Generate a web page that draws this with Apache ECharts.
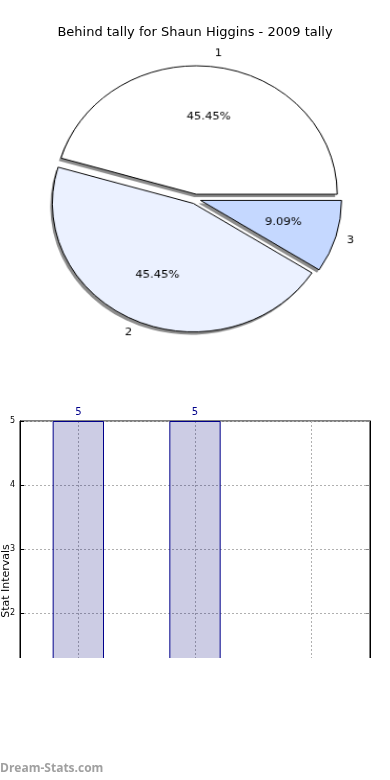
<!DOCTYPE html>
<html><head><meta charset="utf-8">
<script src="https://cdn.jsdelivr.net/npm/echarts@6/dist/echarts.min.js"></script>
<style>
html,body{margin:0;padding:0;background:#fff}
#wrap{position:relative;width:390px;height:780px}
#c{position:absolute;left:0;top:0;width:390px;height:780px}
#p{position:absolute;left:0;top:0;width:390px;height:380px;transform-origin:195.5px 199px;transform:scale(1.052,0.959)}
</style>
</head><body><div id="wrap"><div id="c"></div><div id="p"></div></div>
<script>
const titleText = 'Behind tally for Shaun Higgins - 2009 tally';
const pieNames = ['1', '2', '3'];
const pieValues = [5, 5, 1];
const pieColors = ['#ffffff', '#ebf1ff', '#c5d8ff'];
const barCategories = ['1', '2', '3'];
const barValues = [5, 5, 1];
const yTicks = { min: 0, max: 5, interval: 1 };
const yAxisName = 'Stat Intervals';
const watermark = 'Dream-Stats.com';

const font = 'DejaVu Sans';
const CX = 195.5, CY = 199;
const R = 134;
const OFF = 5;
const total = pieValues.reduce((a, b) => a + b, 0);

function pieData(fill) {
  return pieNames.map((n, i) => ({
    name: n, value: pieValues[i], selected: true,
    itemStyle: { color: fill === null ? pieColors[i] : fill }
  }));
}
const common = {
  type: 'pie', center: [CX, CY], startAngle: 0, clockwise: false,
  selectedMode: 'multiple', selectedOffset: OFF, animation: false,
  emphasis: { disabled: true }, labelLine: { show: false }
};

const chart = echarts.init(document.getElementById('c'), null, { renderer: 'canvas' });
chart.setOption({
  backgroundColor: '#fff',
  animation: false,
  title: {
    text: titleText, left: 'center', top: 21,
    textStyle: { fontFamily: font, fontSize: 13, fontWeight: 'normal', color: '#000' }
  },
  grid: { left: 20, right: 20, top: 421, bottom: 39, outerBoundsMode: 'none', containLabel: false,
    show: true, borderColor: '#000', borderWidth: 1, backgroundColor: 'transparent' },
  xAxis: {
    type: 'category', data: barCategories, boundaryGap: true,
    axisLine: { show: false }, axisTick: { show: false }, axisLabel: { show: false },
    splitLine: { show: true, alignWithLabel: true, lineStyle: { color: '#b0b0b0', type: [2, 2], width: 1 } }
  },
  yAxis: [{
    type: 'value', min: yTicks.min, max: yTicks.max, interval: yTicks.interval,
    axisLine: { show: true, lineStyle: { color: '#000' } },
    axisTick: { show: true, inside: true, length: 4, lineStyle: { color: '#000' } },
    axisLabel: { fontFamily: font, fontSize: 8, color: '#000', margin: 5 },
    splitLine: { show: true, lineStyle: { color: '#b0b0b0', type: [2, 2], width: 1 } }
  }, {
    type: 'value', position: 'right', min: yTicks.min, max: yTicks.max, interval: yTicks.interval,
    axisLine: { show: true, lineStyle: { color: '#000' } },
    axisTick: { show: true, inside: true, length: 4, lineStyle: { color: '#888' } },
    axisLabel: { show: false }, splitLine: { show: false }
  }],
  series: [
    {
      type: 'bar', data: barValues, barWidth: '44%', xAxisIndex: 0, yAxisIndex: 0,
      itemStyle: { color: 'rgba(0,0,120,0.2)', borderColor: '#00008b', borderWidth: 1 },
      label: { show: true, position: 'top', distance: 4, fontFamily: font, fontSize: 10, color: '#00008b' },
      emphasis: { disabled: true }
    }
  ],
  graphic: [
    { type: 'rect', left: 0, top: 658, shape: { width: 390, height: 122 }, style: { fill: '#fff' }, z: 100, silent: true },
    { type: 'text', x: 1, y: 581, rotation: Math.PI / 2, z: 101,
      style: { text: yAxisName, fontFamily: font, fontSize: 11, fill: '#000', align: 'center', verticalAlign: 'top' } },
    { type: 'text', left: 0, top: 763, z: 101, style: { text: watermark, fontFamily: 'Open Sans', fontSize: 12, fontWeight: 'bold', fill: '#a0a0a0' } }
  ]
});

const pie = echarts.init(document.getElementById('p'), null, { renderer: 'canvas' });
pie.setOption({
  animation: false,
  series: [
    Object.assign({}, common, {
      center: [CX - 2, CY + 3], radius: [0, R], data: pieData('#8c8c8c'), silent: true, z: 1,
      label: { show: false }, itemStyle: { borderWidth: 0 }
    }),
    Object.assign({}, common, {
      radius: [0, R], data: pieData(null), label: { show: false }, z: 2,
      itemStyle: { borderColor: '#000', borderWidth: 1 }
    }),
    Object.assign({}, common, {
      radius: [R * 0.54, R * 0.64], data: pieData('rgba(0,0,0,0)'), silent: true, z: 5,
      itemStyle: { borderWidth: 0 },
      label: { show: true, position: 'inside', fontFamily: font, fontSize: 11, color: '#000',
        formatter: p => (p.value / total * 100).toFixed(2) + '%' }
    }),
    Object.assign({}, common, {
      radius: [R * 1.05, R * 1.12], data: pieData('rgba(0,0,0,0)'), silent: true, z: 5,
      itemStyle: { borderWidth: 0 },
      label: { show: true, position: 'inside', fontFamily: font, fontSize: 11, color: '#000', formatter: '{b}' }
    })
  ]
});
</script></body></html>
